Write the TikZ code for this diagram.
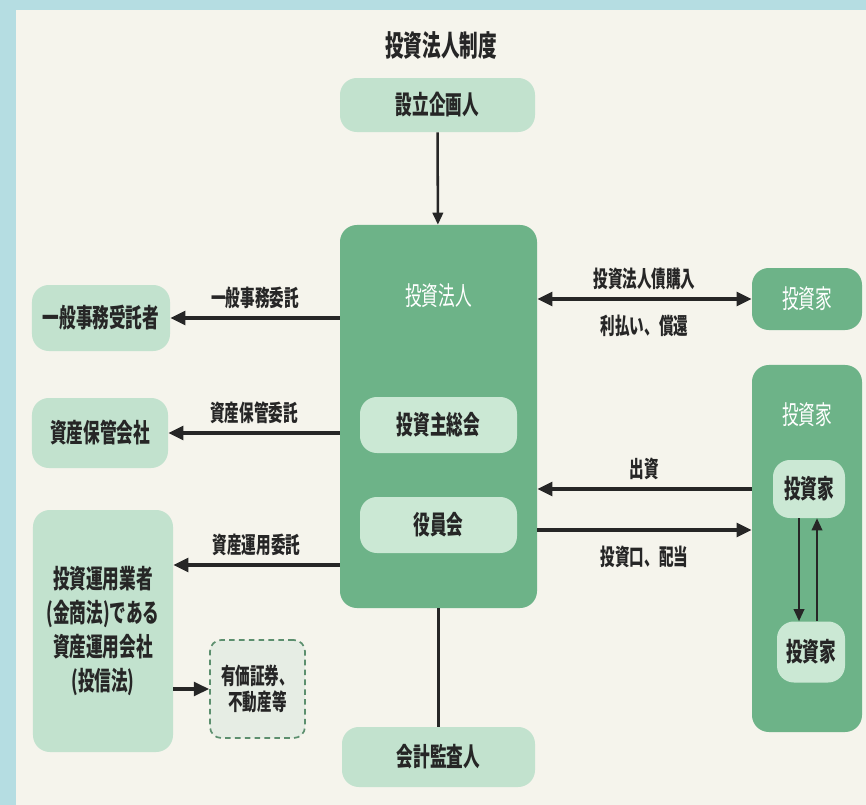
\documentclass[tikz,border=0pt]{standalone}
\usepackage{fontspec}
\usepackage{tikz}
\usetikzlibrary{positioning,arrows.meta,calc}
\newfontfamily\jp[FakeStretch=0.64]{Noto Sans CJK JP}
\definecolor{framebl}{HTML}{B5DDE2}
\definecolor{paper}{HTML}{F5F4EC}
\definecolor{palegr}{HTML}{C2E2CE}
\definecolor{deepgr}{HTML}{6DB388}
\definecolor{innergr}{HTML}{CBE8D4}
\definecolor{inkc}{HTML}{262626}
\definecolor{dashgr}{HTML}{5C8F6E}
\definecolor{dashfill}{HTML}{E6EDE4}
\tikzset{
  orgbox/.style={rounded corners=12pt, align=center, inner sep=0pt, text=inkc,
    font=\jp\bfseries\fontsize{18.5}{20}\selectfont},
  orgpale/.style={orgbox, fill=palegr},
  orgdeep/.style={orgbox, fill=deepgr, text=white},
  orginner/.style={orgbox, fill=innergr},
  orgdash/.style={orgbox, draw=dashgr, fill=dashfill, line width=1.2pt,
    dash pattern=on 4pt off 3pt, rounded corners=8pt},
  orgarrow/.style={-{Triangle[length=3.8mm,width=3.4mm]}, line width=3pt, draw=inkc},
  orgthin/.style={-{Triangle[length=3mm,width=2.6mm]}, line width=1.8pt, draw=inkc},
  orglabel/.style={font=\jp\bfseries\fontsize{16.2}{18}\selectfont, text=inkc, inner sep=0pt},
  orgwhite/.style={font=\jp\fontsize{18.5}{20}\selectfont, text=white, inner sep=0pt},
}

\begin{document}
\begin{tikzpicture}[x=0.25mm, y=-0.25mm]
  \useasboundingbox (0,0) rectangle (866,805);
  \fill[framebl] (0,0) rectangle (866,805);
  \fill[paper] (16,10) rectangle (866,805);

  \node[orglabel, font=\jp\bfseries\fontsize{20.7}{22}\selectfont] (title) at (441,45) {投資法人制度};

  % center column
  \node[orgpale, minimum width=48.75mm, minimum height=13.5mm] (plan) at (437.5,105) {設立企画人};
  \node[orgdeep, minimum width=49.25mm, minimum height=95.75mm] (corp) at (438.5,416.5) {};
  \node[orgwhite] (corplabel) at (438.5,296) {投資法人};
  \node[orginner, minimum width=39.25mm, minimum height=14mm] (meeting) at (438.5,425) {投資主総会};
  \node[orginner, minimum width=39.25mm, minimum height=14mm] (board) at (438.5,525) {役員会};
  \node[orgpale, minimum width=48.25mm, minimum height=15mm] (audit) at (438.5,757) {会計監査人};

  % left column
  \node[orgpale, minimum width=34.5mm, minimum height=16.5mm] (admin) at (101,318) {一般事務受託者};
  \node[orgpale, minimum width=34mm, minimum height=17.5mm] (custody) at (100,433) {資産保管会社};
  \node[orgpale, minimum width=35mm, minimum height=60.5mm, font=\jp\bfseries\fontsize{18.5}{24}\selectfont] (manager) at (103,631)
    {投資運用業者\\(金商法)である\\資産運用会社\\(投信法)};
  \node[orgdash, minimum width=23.75mm, minimum height=24.5mm, font=\jp\bfseries\fontsize{16.2}{18.5}\selectfont] (assets) at (257.5,689)
    {有価証券、\\不動産等};

  % right column
  \node[orgdeep, minimum width=27.5mm, minimum height=15.5mm, font=\jp\fontsize{18.5}{20}\selectfont] (bondinv) at (807,299) {投資家};
  \node[orgdeep, minimum width=27.5mm, minimum height=91.75mm] (unitbox) at (807,548.5) {};
  \node[orgwhite] (unitlabel) at (807,415) {投資家};
  \node[orginner, minimum width=18mm, minimum height=14.5mm] (invA) at (809,489) {投資家};
  \node[orginner, minimum width=17mm, minimum height=15.25mm] (invB) at (811,652) {投資家};

  % connectors
  \draw[orgthin] (plan) -- (corp);
  \draw[line width=1.8pt, draw=inkc] (corp) -- (audit);
  \draw[orgarrow] (corp.west |- admin) -- node[orglabel, above=1.8mm]{一般事務委託} (admin);
  \draw[orgarrow] (corp.west |- custody) -- node[orglabel, above=1.8mm]{資産保管委託} (custody);
  \coordinate (mgrin) at ([yshift=16.5mm]manager.east);
  \draw[orgarrow] (corp.west |- mgrin) -- node[orglabel, above=1.8mm]{資産運用委託} (mgrin);
  \draw[orgarrow, line width=2.4pt] (manager.east |- assets.west) -- (assets.west);

  \draw[orgarrow, {Triangle[length=3.8mm,width=3.4mm]}-{Triangle[length=3.8mm,width=3.4mm]}]
    (corp.east |- bondinv) -- node[orglabel, above=1.8mm]{投資法人債購入}
    node[orglabel, below=3.4mm]{利払い、償還} (bondinv);
  \draw[orgarrow] (unitbox.west |- invA) -- node[orglabel, above=1.8mm]{出資} (corp.east |- invA);
  \coordinate (payout) at ([yshift=-10.25mm]corp.east |- invA);
  \draw[orgarrow] (payout) -- node[orglabel, below=3.4mm]{投資口、配当} (unitbox.west |- payout);

  \coordinate (downA) at ([xshift=-2.5mm]invA.south);
  \coordinate (upB) at ([xshift=1.5mm]invB.north);
  \draw[orgthin, line width=1.5pt] (downA) -- (downA |- invB.north);
  \draw[orgthin, line width=1.5pt] (upB) -- (upB |- invA.south);
\end{tikzpicture}
\end{document}
